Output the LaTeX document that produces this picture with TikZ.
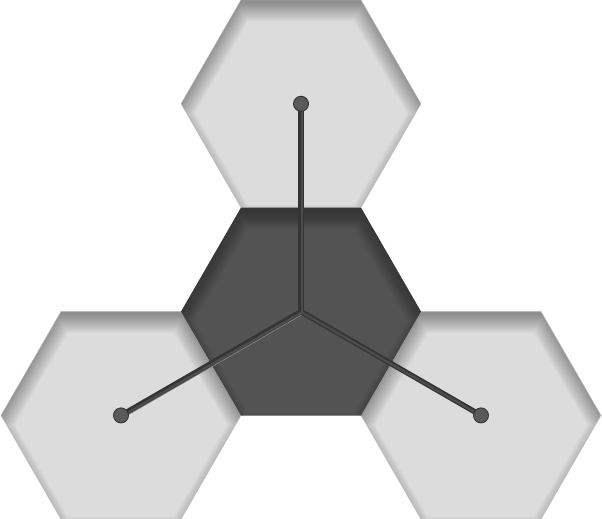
\documentclass[tikz,border=0pt]{standalone}
\usetikzlibrary{shapes.geometric}
\definecolor{hexlight}{HTML}{DCDCDC}
\definecolor{hexdark}{HTML}{535353}
\definecolor{hexedge}{HTML}{C2C2C2}
\definecolor{rodcol}{HTML}{343434}
\definecolor{rodcore}{HTML}{4C4C4C}
\definecolor{rodlight}{HTML}{8E8E8E}
\definecolor{dotcol}{HTML}{5A5A5A}
% inset shadow: layers of (big box minus a shifted, inset hexagon)
\newcommand\hexshade[2]{% opacity, vertical offset
  \path (path picture bounding box.center) coordinate (pc);
  \foreach \d in {-6,-5,...,12}{
    \pgfmathsetmacro\ap{103.92-\d}
    \pgfmathsetmacro\rr{\ap/0.866025}
    \pgfmathsetmacro\hr{\rr/2}
    \fill[black, opacity=#1, even odd rule]
      ([shift={(-200,-200)}]pc) rectangle ([shift={(200,200)}]pc)
      ([shift={(0,#2)}]pc) +(\rr,0) -- +(\hr,\ap) -- +(-\hr,\ap) -- +(-\rr,0)
      -- +(-\hr,-\ap) -- +(\hr,-\ap) -- cycle;
  }%
}
\tikzset{
  hexbase/.style={regular polygon, regular polygon sides=6, minimum size=240pt,
    inner sep=0pt, outer sep=0pt},
  lighthex/.style={hexbase, fill=hexlight, draw=hexedge, line width=0.4pt,
    path picture={\hexshade{0.019}{9.5}}},
  darkhex/.style={hexbase, fill=hexdark,
    path picture={\hexshade{0.017}{9.5}}},
  rodshine/.style={draw=rodlight, line width=2pt, line cap=round},
  rodbody/.style={draw=rodcol, line width=5.4pt, line cap=round},
  rodinner/.style={draw=rodcore, line width=2.4pt, line cap=round},
  dotnode/.style={circle, fill=dotcol, draw=rodcol, line width=0.9pt,
    minimum size=15pt, inner sep=0pt},
}
\begin{document}
\begin{tikzpicture}[x=1pt, y=-1pt]
\useasboundingbox (0,0) rectangle (602,519);
\node[lighthex] (top) at (301,103.8) {};
\node[lighthex] (bl) at (121,415.4) {};
\node[lighthex] (br) at (481,415.4) {};
\node[darkhex] (mid) at (301,311.6) {};
\coordinate (hub) at (mid.center);
% rods
\foreach \t in {top, bl, br}{
  \draw[rodshine] ([shift={(1.8,1.8)}]hub) -- ([shift={(1.8,1.8)}]\t.center);
}
\foreach \t in {top, bl, br}{
  \draw[rodbody] (hub) -- (\t.center);
}
\foreach \t in {top, bl, br}{
  \draw[rodinner] ([shift={(0.8,0.8)}]hub) -- ([shift={(0.8,0.8)}]\t.center);
}
\node[dotnode] (dtop) at (top.center) {};
\node[dotnode] (dbl) at (bl.center) {};
\node[dotnode] (dbr) at (br.center) {};
\end{tikzpicture}
\end{document}
